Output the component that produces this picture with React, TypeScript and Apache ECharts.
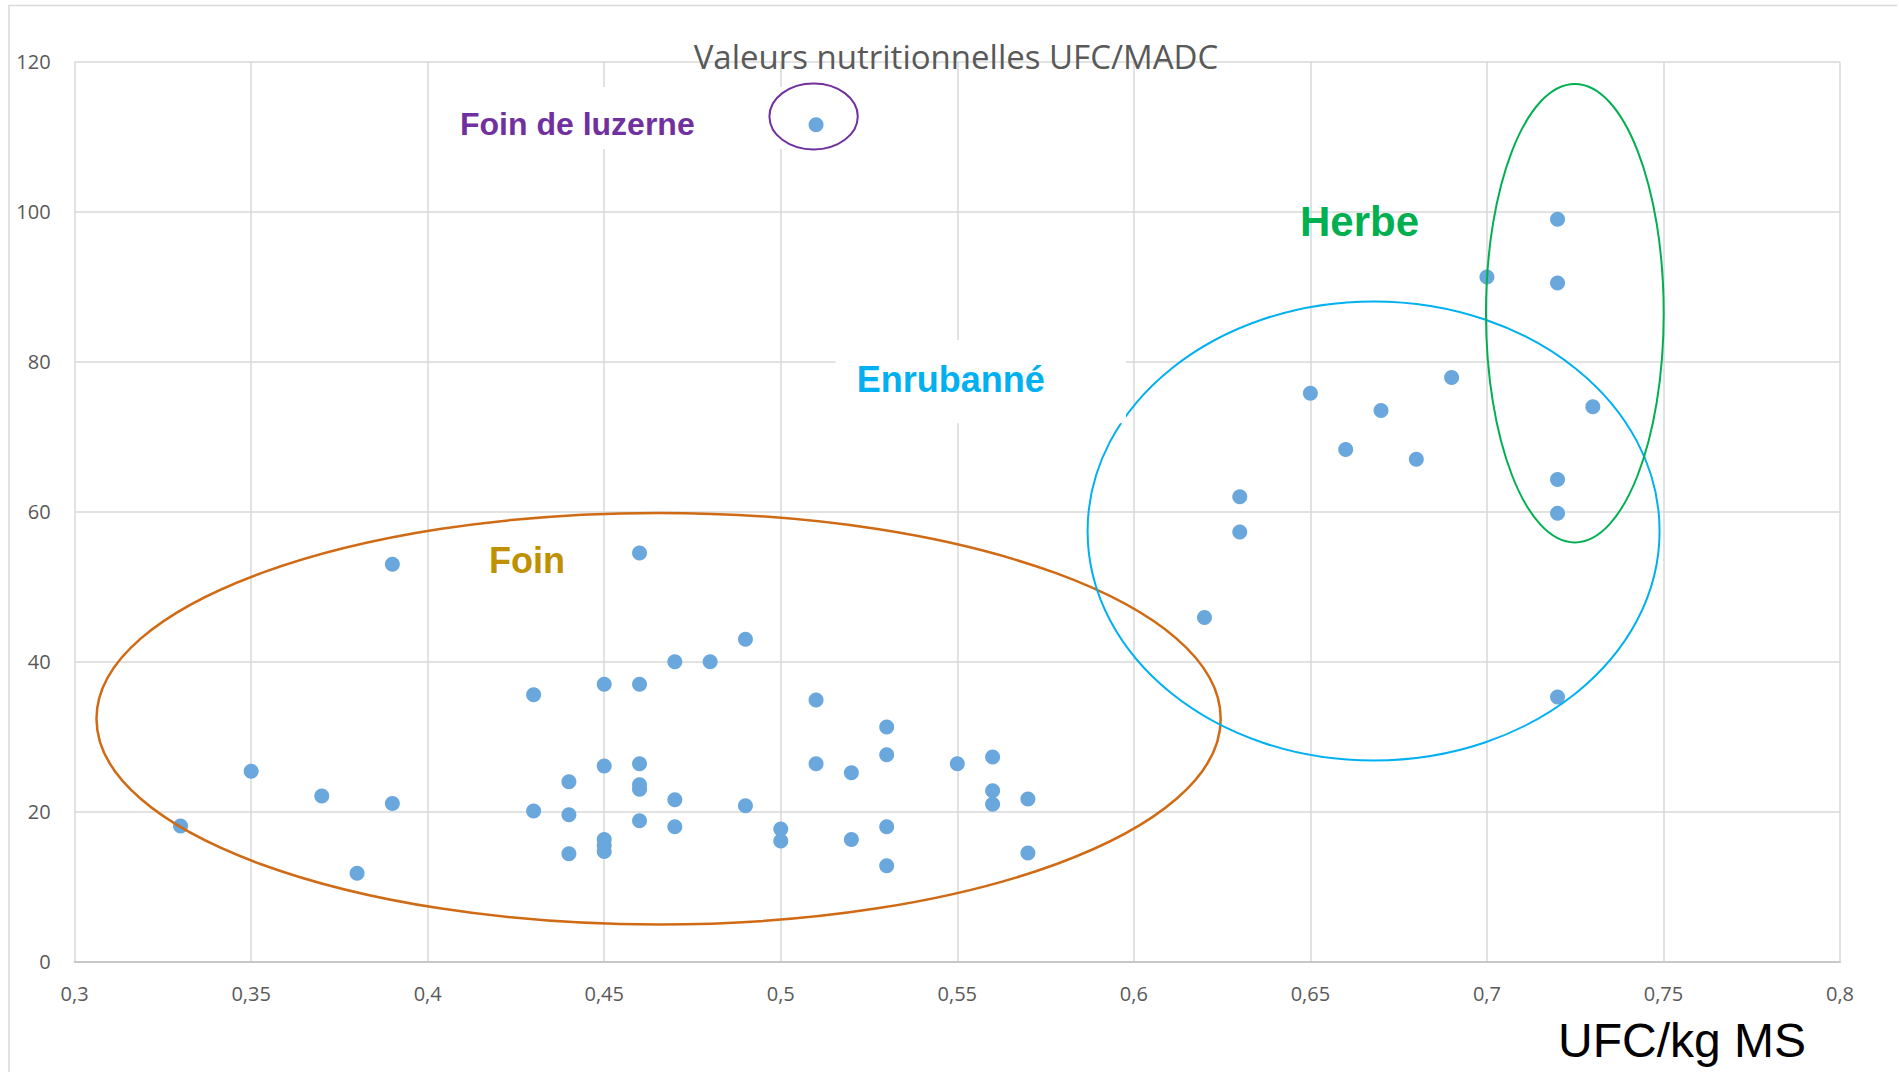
import React, { useEffect, useRef } from "react";
import * as echarts from "echarts";

// UFC/kg MS (x) and MADC (y) for each forage sample
const ufc = [
  0.33, 0.35, 0.37, 0.38, 0.39, 0.39, 0.43, 0.43, 0.44, 0.44, 0.44,
  0.45, 0.45, 0.45, 0.45, 0.45, 0.46, 0.46, 0.46, 0.46, 0.46, 0.46,
  0.47, 0.47, 0.47, 0.48, 0.49, 0.49, 0.5, 0.5, 0.51, 0.51, 0.52, 0.52,
  0.53, 0.53, 0.53, 0.53, 0.55, 0.56, 0.56, 0.56, 0.57, 0.57,
  0.62, 0.63, 0.63, 0.65, 0.66, 0.67, 0.68, 0.69, 0.7, 0.72, 0.72, 0.73,
  0.72, 0.72, 0.72, 0.51,
];
const madc = [
  18.1, 25.4, 22.1, 11.8, 53.0, 21.1, 35.6, 20.1, 24.0, 19.6, 14.4,
  37.0, 26.1, 16.3, 15.5, 14.7, 54.5, 37.0, 26.4, 23.6, 23.0, 18.8,
  40.0, 21.6, 18.0, 40.0, 43.0, 20.8, 17.7, 16.1, 34.9, 26.4, 25.2, 16.3,
  31.3, 27.6, 18.0, 12.8, 26.4, 27.3, 22.8, 21.0, 21.7, 14.5,
  45.9, 62.0, 57.3, 75.8, 68.3, 73.5, 67.0, 77.9, 91.3, 99.0, 90.5, 74.0,
  64.3, 59.8, 35.3, 111.6,
];

// Axis ranges
const xMin = 0.3, xMax = 0.8, xStep = 0.05;
const yMin = 0, yMax = 120, yStep = 20;

// Annotated groups (ellipses in data units)
const groupNames = ["Foin", "Enrubanné", "Herbe", "Foin de luzerne"];
const groupCx = [0.4654, 0.6679, 0.7249, 0.5093];
const groupCy = [32.4, 57.43, 86.47, 112.7];
const groupRx = [0.1592, 0.081, 0.02517, 0.01251];
const groupRy = [27.44, 30.6, 30.56, 4.4];
const groupColors = ["#CF6A15", "#00B0F0", "#00B050", "#7030A0"];
const labelColors = ["#BF9000", "#00B0F0", "#00B050", "#7030A0"];

const title = "Valeurs nutritionnelles UFC/MADC";
const xName = "UFC/kg MS";

export default function App() {
  const ref = useRef<HTMLDivElement>(null);
  useEffect(() => {
    if (!ref.current) return;
    const chart = echarts.init(ref.current, undefined, { renderer: "svg" });
    const data = ufc.map((x, i) => [x, madc[i]]);
    chart.setOption({
      animation: false,
      backgroundColor: "#ffffff",
      grid: { left: 74.6, right: 59, top: 61.7, bottom: 110.3, containLabel: false },
      xAxis: {
        type: "value",
        min: xMin,
        max: xMax,
        interval: xStep,
        axisLine: { show: true, onZero: false, lineStyle: { color: "#c8c8c8", width: 2 } },
        axisTick: { show: false },
        splitLine: { show: true, lineStyle: { color: "#d9d9d9", width: 1.5 } },
        axisLabel: {
          margin: 22,
          color: "#595959",
          fontSize: 20,
          fontFamily: "Open Sans",
          formatter: (v: number) => String(+v.toFixed(2)).replace(".", ","),
        },
      },
      yAxis: {
        type: "value",
        min: yMin,
        max: yMax,
        interval: yStep,
        axisLine: { show: false },
        axisTick: { show: false },
        splitLine: { show: true, lineStyle: { color: "#d9d9d9", width: 1.5 } },
        axisLabel: {
          margin: 24,
          color: "#595959",
          fontSize: 20,
          fontFamily: "Open Sans",
          padding: [6, 0, 0, 0],
        },
      },
      series: [
        {
          type: "scatter",
          data,
          symbol: "circle",
          symbolSize: 15,
          itemStyle: { color: "#6AA7DC", opacity: 1 },
          z: 2,
        },
      ],
    });

    const graphics: any[] = [];
    // outer frame (top & left)
    graphics.push({
      type: "polyline",
      silent: true,
      z: 0,
      shape: { points: [[1897, 5.5], [9, 5.5], [9, 1072]] },
      style: { stroke: "#d9d9d9", lineWidth: 1.5, fill: "none" },
    });
    // title
    graphics.push({
      type: "text",
      silent: true,
      z: 5,
      x: 956,
      y: 56,
      style: {
        text: title,
        fill: "#595959",
        font: '33px "Open Sans"',
        align: "center",
        verticalAlign: "middle",
        textAlign: "center",
        textVerticalAlign: "middle",
      },
    });
    // x axis name
    graphics.push({
      type: "text",
      silent: true,
      z: 5,
      x: 1558,
      y: 1040,
      style: {
        text: xName,
        fill: "#000000",
        font: '48px "Liberation Sans"',
        align: "left",
        verticalAlign: "middle",
        textAlign: "left",
        textVerticalAlign: "middle",
      },
    });
    // white label boxes
    graphics.push({
      type: "rect", silent: true, z: 1,
      shape: { x: 439, y: 87, width: 352, height: 62 },
      style: { fill: "#ffffff" },
    });
    graphics.push({
      type: "rect", silent: true, z: 4,
      shape: { x: 835.7, y: 340, width: 290.3, height: 83.3 },
      style: { fill: "#ffffff" },
    });
    // ellipses
    for (let i = 0; i < groupNames.length; i++) {
      const c = chart.convertToPixel({ gridIndex: 0 }, [groupCx[i], groupCy[i]]) as number[];
      const e = chart.convertToPixel(
        { gridIndex: 0 },
        [groupCx[i] + groupRx[i], groupCy[i] + groupRy[i]]
      ) as number[];
      graphics.push({
        type: "ellipse",
        silent: true,
        z: 3,
        shape: { cx: c[0], cy: c[1], rx: Math.abs(e[0] - c[0]), ry: Math.abs(c[1] - e[1]) },
        style: { fill: "none", stroke: groupColors[i], lineWidth: i === 0 ? 2.5 : 2 },
      });
    }
    // group labels
    const labelPos = [
      [489, 560.5, 36],
      [856.7, 379.7, 36],
      [1300, 221.3, 42],
      [460, 124, 32],
    ];
    for (let i = 0; i < groupNames.length; i++) {
      graphics.push({
        type: "text",
        silent: true,
        z: 5,
        x: labelPos[i][0],
        y: labelPos[i][1],
        style: {
          text: groupNames[i],
          fill: labelColors[i],
          font: `bold ${labelPos[i][2]}px "Liberation Sans"`,
          align: "left",
          verticalAlign: "middle",
          textAlign: "left",
          textVerticalAlign: "middle",
        },
      });
    }
    chart.setOption({ graphic: { elements: graphics } });
    return () => chart.dispose();
  }, []);
  return (
    <div
      ref={ref}
      style={{ position: "fixed", left: 0, top: 0, width: 1899, height: 1072, background: "#fff" }}
    />
  );
}
